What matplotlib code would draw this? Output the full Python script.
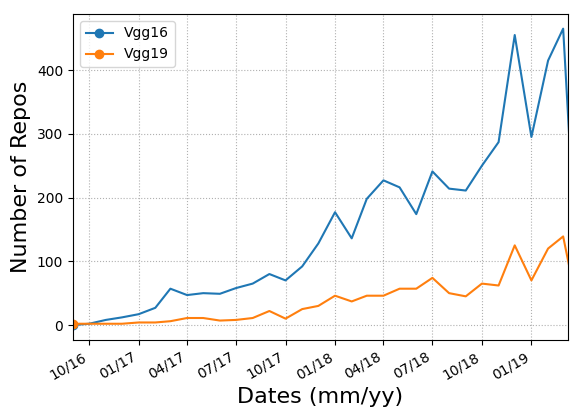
import matplotlib
matplotlib.use("Agg")
import matplotlib.pyplot as plt
import matplotlib.dates as mdates
import pandas as pd

dates = pd.date_range("2016-09-01", periods=32, freq="MS")
vgg16 = [0, 2, 8, 12, 17, 27, 57, 47, 50, 49, 58, 65, 80, 70, 92, 128, 177, 136, 198, 227,
         216, 174, 241, 214, 211, 250, 287, 455, 295, 415, 465, 0]
vgg19 = [2, 2, 2, 2, 4, 4, 6, 11, 11, 7, 8, 11, 22, 10, 25, 30, 46, 37, 46, 46,
         57, 57, 74, 50, 45, 65, 62, 125, 70, 120, 139, 10]

fig = plt.figure(figsize=(5.81, 4.17), dpi=100)
ax = fig.add_axes([73/581, 1-340/417, (568-73)/581, (340-14)/417])
ax.plot(dates, vgg16, '-o', color='#1f77b4', markevery=[0], label='Vgg16')
ax.plot(dates, vgg19, '-o', color='#ff7f0e', markevery=[0], label='Vgg19')
ax.set_xlim(pd.Timestamp("2016-09-01"), pd.Timestamp("2019-03-10"))
ax.set_ylim(-23.5, 488)
ax.set_yticks([0, 100, 200, 300, 400])
ax.xaxis.set_major_locator(mdates.MonthLocator(bymonth=[1, 4, 7, 10]))
ax.xaxis.set_major_formatter(mdates.DateFormatter('%m/%y'))
plt.setp(ax.get_xticklabels(), rotation=30, ha='right')
ax.grid(True, linestyle=':', color='#b0b0b0')
ax.set_xlabel('Dates (mm/yy)', fontsize=16)
ax.set_ylabel('Number of Repos', fontsize=16)
ax.legend(loc='upper left')
fig.savefig('out.png', dpi=100)
